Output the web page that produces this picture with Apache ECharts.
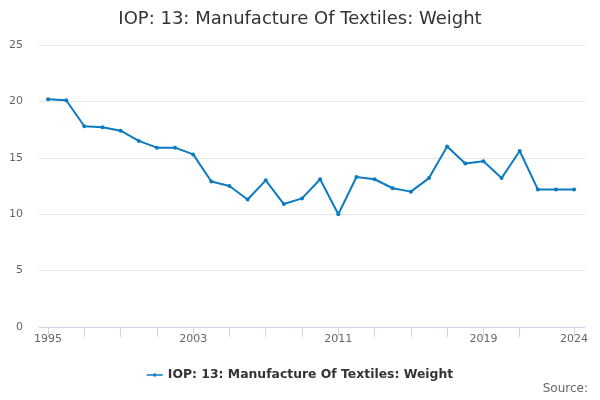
<!DOCTYPE html>
<html>
<head>
<meta charset="utf-8">
<script src="https://cdn.jsdelivr.net/npm/echarts@6/dist/echarts.min.js"></script>
<style>
html,body{margin:0;padding:0;background:#fff;}
#chart{width:600px;height:400px;}
</style>
</head>
<body>
<div id="chart"></div>
<script>
// data
var years = [1995,1996,1997,1998,1999,2000,2001,2002,2003,2004,2005,2006,2007,2008,2009,
	2010,2011,2012,2013,2014,2015,2016,2017,2018,2019,2020,2021,2022,2023,2024];
var weight = [20.2,20.1,17.8,17.7,17.4,16.5,15.9,15.9,15.3,12.9,12.5,11.3,13.0,10.9,11.4,
	13.1,10.0,13.3,13.1,12.3,12.0,13.2,16.0,14.5,14.7,13.2,15.6,12.2,12.2,12.2];
var tickYears = [1995,1997,1999,2001,2003,2005,2007,2009,2011,2013,2015,2017,2019,2021,2024];
var labelYears = [1995,2003,2011,2019,2024];
var seriesName = 'IOP: 13: Manufacture Of Textiles: Weight';

var points = [];
for (var i = 0; i < years.length; i++) {
	points.push([years[i], weight[i]]);
}

var myChart = echarts.init(document.getElementById('chart'));
var font = 'DejaVu Sans';
// legend marker: line with a small dot in the middle
var legendIcon = 'path://M0,3.2H6.2V4.8H0Z M9.8,3.2H16V4.8H9.8Z M6.2,4A1.8,1.8 0 1 1 9.8,4A1.8,1.8 0 1 1 6.2,4Z';
var option = {
	animation: false,
	title: {
		text: seriesName,
		left: 'center',
		top: 5,
		textStyle: {fontFamily: font, fontSize: 18, fontWeight: 'normal', color: '#333'}
	},
	legend: {
		data: [{name: seriesName, icon: legendIcon}],
		bottom: 14,
		left: 'center',
		itemWidth: 16,
		itemHeight: 8,
		itemGap: 5,
		textStyle: {fontFamily: font, fontSize: 12.4, fontWeight: 'bold', color: '#333'}
	},
	graphic: [{
		type: 'text',
		right: 12,
		bottom: 5,
		style: {text: 'Source:', fontFamily: font, fontSize: 12, fill: '#666'}
	}],
	grid: {left: 39, right: 15, top: 45, bottom: 73},
	xAxis: {
		type: 'value',
		min: 1994.5,
		max: 2024.6,
		splitLine: {show: false},
		axisLine: {lineStyle: {color: '#ccd6eb'}},
		axisTick: {show: true, length: 10, customValues: tickYears, lineStyle: {color: '#ccd6eb'}},
		axisLabel: {
			customValues: labelYears,
			fontFamily: font, fontSize: 11, color: '#666', margin: 7,
			formatter: function (v) { return String(v); }
		}
	},
	yAxis: {
		type: 'value',
		min: 0,
		max: 25,
		interval: 5,
		axisLine: {show: false},
		axisTick: {show: false},
		splitLine: {lineStyle: {color: '#e6e6e6'}},
		axisLabel: {fontFamily: font, fontSize: 11, color: '#666', margin: 16}
	},
	series: [{
		name: seriesName,
		type: 'line',
		data: points,
		symbol: 'circle',
		symbolSize: 4,
		itemStyle: {color: '#0c7bc0'},
		lineStyle: {width: 2, color: '#0c7bc0'}
	}]
};
myChart.setOption(option);
</script>
</body>
</html>
